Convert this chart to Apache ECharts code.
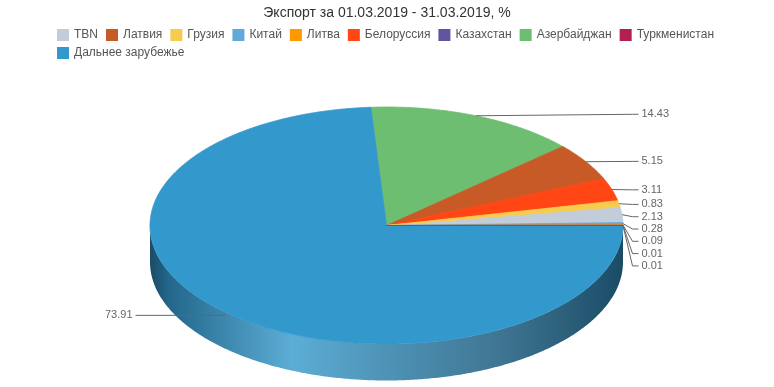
<!DOCTYPE html>
<html><head><meta charset="utf-8">
<script src="https://cdn.jsdelivr.net/npm/echarts@6/dist/echarts.min.js"></script>
<style>html,body{margin:0;padding:0;background:#fff}#c{width:774px;height:387px}</style>
</head><body><div id="c"></div>
<script>
// ---- data ----
const categories = ['TBN','Латвия','Грузия','Китай','Литва','Белоруссия','Казахстан','Азербайджан','Туркменистан','Дальнее зарубежье'];
const values = [2.13, 5.15, 0.83, 0.28, 0.09, 3.11, 0.01, 14.43, 0.01, 73.91];
const colors = ['#c3ccd9','#c75a27','#f7cb4d','#62a9d9','#ff9900','#ff4614','#5f55a0','#6dbe70','#b1204f','#3398cc'];
// clockwise drawing order as seen in the picture
const sliceOrder = ['Азербайджан','Латвия','Белоруссия','Грузия','TBN','Китай','Литва','Туркменистан','Казахстан','Дальнее зарубежье'];
const titleText = 'Экспорт за 01.03.2019 - 31.03.2019, %';

// ---- geometry (layout) ----
const FONT = '"Liberation Sans", Arial, Helvetica, sans-serif';
const CX = 386.5, CY = 225.5, RX = 236.5, RY = 118.5, DEPTH = 36.5;
const START = -3.8;
const LABEL_DIST = 18;
const LABEL_GAP = 12.3;
function pt(deg, dy){ const r = deg*Math.PI/180; return [CX + RX*Math.sin(r), CY - RY*Math.cos(r) + (dy||0)]; }
function arc(a,b,dy){ const pts=[]; const n=Math.max(2,Math.ceil(Math.abs(b-a)/0.5)+1); for(let i=0;i<n;i++){pts.push(pt(a+(b-a)*i/(n-1),dy));} return pts; }
function hexRgb(h){ return [parseInt(h.slice(1,3),16),parseInt(h.slice(3,5),16),parseInt(h.slice(5,7),16)]; }
function tone(h, light, mult){ const c=hexRgb(h).map(v=>Math.round(Math.min(255,(v+(255-v)*light)*mult))); return 'rgb('+c.join(',')+')'; }
function sideGradient(col){
  return new echarts.graphic.LinearGradient(CX-RX, 0, CX+RX, 0, [
    {offset:0, color:tone(col,0,0.5)},
    {offset:0.04, color:tone(col,0,0.68)},
    {offset:0.3, color:tone(col,0.2,1)},
    {offset:0.5, color:tone(col,0.2,0.85)},
    {offset:0.75, color:tone(col,0.2,0.67)},
    {offset:1, color:tone(col,0,0.5)}
  ], true);
}

// ---- layout of slices from data ----
const total = values.reduce((s,v)=>s+v,0);
let acc = START;
const slices = sliceOrder.map(name=>{
  const v = values[categories.indexOf(name)];
  const a = acc, b = acc + v/total*360; acc = b;
  const mid = (a+b)/2; const p = pt(mid);
  // slight perspective shift of label anchors (near side lower, far side higher)
  const ny = p[1] + 1.2 - 2.9*Math.cos(mid*Math.PI/180);
  return {name, v, a, b, mid, px:p[0], py:ny, right: Math.sin(mid*Math.PI/180) >= 0};
});
function distribute(list){
  list.sort((s,t)=>s.py-t.py);
  let last=-Infinity;
  list.forEach(s=>{ s.ly = Math.max(s.py, last+LABEL_GAP); last = s.ly; });
}
distribute(slices.filter(s=>s.right));
distribute(slices.filter(s=>!s.right));
const sliceMap = {}; slices.forEach(s=>sliceMap[s.name]=s);

function renderItem(params, api){
  const a = api.value(0), b = api.value(1), ly = api.value(2), v = api.value(3), right = api.value(4);
  const color = api.visual('color');
  const children = [];
  const sa = Math.max(a, 90), sb = Math.min(b, 270);
  if (sb > sa){
    const top = arc(sa,sb,0), bot = arc(sa,sb,DEPTH).reverse();
    children.push({type:'polygon', z2:0, silent:true, shape:{points:top.concat(bot)}, style:{fill:sideGradient(color)}});
  }
  children.push({type:'polygon', z2: v < 1 ? 2 : 1, shape:{points:[[CX,CY]].concat(arc(a,b,0))}, style:{fill:color, stroke:color, lineWidth:0.8}});
  const p = pt((a+b)/2);
  let LX, pts, align;
  if (right){ LX = CX+RX+LABEL_DIST+0.5; pts=[p,[LX-9,ly],[LX-3,ly]]; align='left'; }
  else { LX = CX-RX-LABEL_DIST+0.5; pts=[[p[0],p[1]+1.5],[p[0]-1,ly],[LX+3,ly]]; align='right'; }
  children.push({type:'polyline', z2:10, silent:true, shape:{points:pts}, style:{stroke:'#666', lineWidth:1, fill:null}});
  children.push({type:'text', z2:10, silent:true, style:{x:LX, y:ly, text:v.toFixed(2), align:align, verticalAlign:'middle', fill:'#666', font:'11px '+FONT}});
  return {type:'group', children};
}

const series = categories.map((name,i)=>{
  const s = sliceMap[name];
  return {
    type:'custom', name, coordinateSystem:'none', renderItem,
    itemStyle:{color:colors[i]},
    data:[[s.a, s.b, s.ly, s.v, s.right?1:0]],
    animation:false
  };
});
// draw in clockwise order so neighbouring slices overlap as in the picture
series.sort((x,y)=>sliceOrder.indexOf(x.name)-sliceOrder.indexOf(y.name));

const chart = echarts.init(document.getElementById('c'), null, {renderer:'canvas'});
chart.setOption({
  animation:false,
  color: colors,
  title:{text:titleText, left:'center', top:1, textStyle:{fontSize:14, fontWeight:'normal', color:'#333', fontFamily:FONT}},
  legend:[
    {data:categories.slice(0,9), left:57, top:29, itemWidth:12, itemHeight:12, itemGap:8, icon:'rect', padding:0,
     textStyle:{fontSize:12, color:'#555', fontFamily:FONT}},
    {data:categories.slice(9), left:57, top:47, itemWidth:12, itemHeight:12, itemGap:8, icon:'rect', padding:0,
     textStyle:{fontSize:12, color:'#555', fontFamily:FONT}}
  ],
  series
});
</script></body></html>
